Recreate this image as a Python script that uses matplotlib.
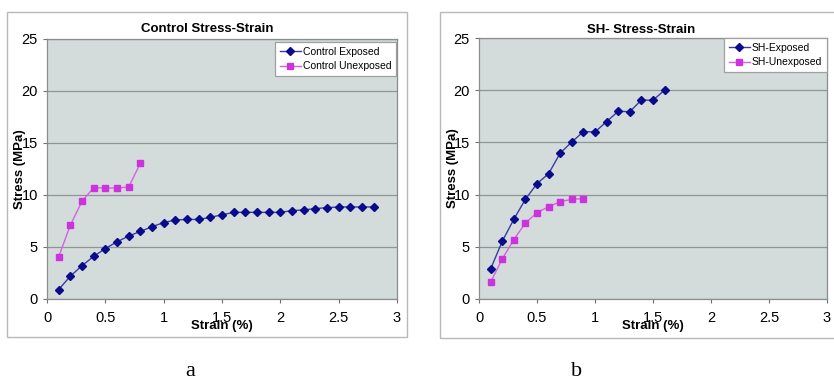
import matplotlib
matplotlib.use("Agg")
import matplotlib.pyplot as plt
from matplotlib.patches import Rectangle

plt.rcParams['font.family'] = ['Liberation Sans', 'DejaVu Sans']

# ---- data ----
ctrl_exp_x = [0.1, 0.2, 0.3, 0.4, 0.5, 0.6, 0.7, 0.8, 0.9, 1.0, 1.1, 1.2, 1.3, 1.4,
              1.5, 1.6, 1.7, 1.8, 1.9, 2.0, 2.1, 2.2, 2.3, 2.4, 2.5, 2.6, 2.7, 2.8]
ctrl_exp_y = [0.9, 2.2, 3.2, 4.1, 4.85, 5.5, 6.05, 6.5, 6.95, 7.35, 7.6, 7.65, 7.65, 7.85,
              8.1, 8.33, 8.33, 8.33, 8.33, 8.33, 8.5, 8.56, 8.7, 8.78, 8.85, 8.85, 8.85, 8.85]
ctrl_unexp_x = [0.1, 0.2, 0.3, 0.4, 0.5, 0.6, 0.7, 0.8]
ctrl_unexp_y = [4.05, 7.1, 9.4, 10.7, 10.67, 10.67, 10.77, 13.05]

sh_exp_x = [0.1, 0.2, 0.3, 0.4, 0.5, 0.6, 0.7, 0.8, 0.9, 1.0, 1.1, 1.2, 1.3, 1.4, 1.5, 1.6]
sh_exp_y = [2.87, 5.52, 7.63, 9.55, 11.05, 12.0, 13.98, 15.04, 16.03, 16.0, 16.99, 17.98,
            17.94, 19.06, 19.03, 20.02]
sh_unexp_x = [0.1, 0.2, 0.3, 0.4, 0.5, 0.6, 0.7, 0.8, 0.9]
sh_unexp_y = [1.6, 3.83, 5.68, 7.28, 8.27, 8.84, 9.32, 9.55, 9.61]

x_ticks = [0, 0.5, 1, 1.5, 2, 2.5, 3]
x_ticklabels = ['0', '0.5', '1', '1.5', '2', '2.5', '3']
y_ticks = [0, 5, 10, 15, 20, 25]

W, H = 834, 381
fig = plt.figure(figsize=(W / 100, H / 100), dpi=100)
fig.patch.set_facecolor('white')

BG = '#d3dcdb'
BLUE_L, BLUE_M = '#3a3aa6', '#0a0a8c'
MAG_L, MAG_M = '#d860e0', '#cc33dd'


def px_axes(l, t, r, b):
    return fig.add_axes([l / W, 1 - b / H, (r - l) / W, (b - t) / H])


def frame(l, t, r, b):
    fig.add_artist(Rectangle((l / W, 1 - b / H), (r - l) / W, (b - t) / H,
                             transform=fig.transFigure, fill=False,
                             edgecolor='#b8b8b8', linewidth=1.0))


def style(ax, ylab_x):
    ax.set_facecolor(BG)
    ax.set_xlim(0, 3)
    ax.set_ylim(0, 25)
    ax.set_xticks(x_ticks)
    ax.set_xticklabels(x_ticklabels)
    ax.set_yticks(y_ticks)
    ax.yaxis.grid(True, color='#8f9494', linewidth=0.9)
    ax.set_axisbelow(True)
    for s in ax.spines.values():
        s.set_color('#8c8c8c')
        s.set_linewidth(0.9)
    ax.tick_params(axis='both', labelsize=10.5, length=3, color='#707070',
                   width=0.8)
    ax.tick_params(axis='y', pad=3.5)
    ax.tick_params(axis='x', pad=5.5)
    ax.text(0.5, -0.102, 'Strain (%)', transform=ax.transAxes, ha='center',
            va='center', fontsize=9.5, fontweight='bold')
    ax.text(ylab_x, 0.5, 'Stress (MPa)', transform=ax.transAxes, ha='center',
            va='center', rotation=90, fontsize=9.5, fontweight='bold')


def legend(ax, anchor):
    leg = ax.legend(loc='upper right', bbox_to_anchor=anchor, fontsize=7.5,
                    fancybox=False, framealpha=1, edgecolor='#a0a0a0',
                    borderpad=0.45, handlelength=2.0, labelspacing=0.45,
                    handletextpad=0.2, borderaxespad=0.0)
    leg.get_frame().set_linewidth(0.9)


# left chart
frame(7, 12, 407, 337)
ax1 = px_axes(47, 39, 397, 299)
style(ax1, -0.077)
ax1.plot(ctrl_exp_x, ctrl_exp_y, color=BLUE_L, lw=1.0, marker='D', ms=3.8,
         mfc=BLUE_M, mec=BLUE_M, label='Control Exposed')
ax1.plot(ctrl_unexp_x, ctrl_unexp_y, color=MAG_L, lw=1.0, marker='s', ms=4.2,
         mfc=MAG_M, mec=MAG_M, label='Control Unexposed')
legend(ax1, (0.997, 0.988))
fig.text(207 / W, 1 - 29 / H, 'Control Stress-Strain', fontsize=9.5,
         fontweight='bold', ha='center', va='center')

# right chart
frame(440, 12, 845, 338)
ax2 = px_axes(479, 38, 827, 299)
style(ax2, -0.075)
ax2.plot(sh_exp_x, sh_exp_y, color=BLUE_L, lw=1.0, marker='D', ms=3.8,
         mfc=BLUE_M, mec=BLUE_M, label='SH-Exposed')
ax2.plot(sh_unexp_x, sh_unexp_y, color=MAG_L, lw=1.0, marker='s', ms=4.2,
         mfc=MAG_M, mec=MAG_M, label='SH-Unexposed')
legend(ax2, (1.0, 1.0))
fig.text(641 / W, 1 - 30 / H, 'SH- Stress-Strain', fontsize=9.5,
         fontweight='bold', ha='center', va='center')

fig.text(190 / W, 1 - 371 / H, 'a', family='Liberation Serif', fontsize=16,
         ha='center', va='center')
fig.text(577 / W, 1 - 371 / H, 'b', family='Liberation Serif', fontsize=16,
         ha='center', va='center')

fig.savefig('out.png', dpi=100)
